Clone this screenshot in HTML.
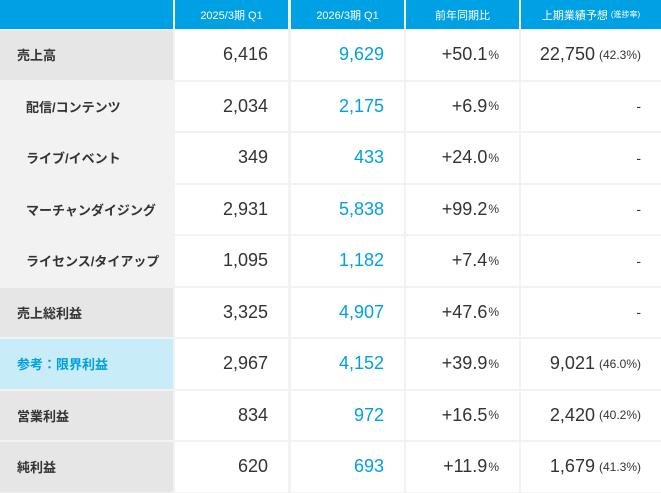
<!DOCTYPE html>
<html><head><meta charset="utf-8"><style>
body{margin:0;width:661px;height:493px;background:#fff;overflow:hidden;font-family:"Liberation Sans","Noto Sans CJK JP",sans-serif;}
.t{position:absolute;left:0;top:0;width:661px;height:493px;background:#f2f2f2;}
.c{position:absolute;box-sizing:border-box;display:flex;align-items:center;color:#333;}
.h{background:#00a0e4;color:#fff;font-size:11px;justify-content:center;}
.l{background:#e6e6e6;font-size:13px;font-weight:bold;padding-left:17px;}
.s{background:#f2f2f2;padding-left:26px;}
.r{background:#c8ecf8;color:#00a0e4;}
.n{background:#fff;justify-content:flex-end;padding-right:20px;font-size:18px;}
.b{color:#00a0e4;}
.p{font-size:12px;margin-left:1px;}
.q{font-size:12px;margin-left:4px;}
.d{font-size:14px;}
</style></head><body>
<div class="t" id="t"></div>
<script>
const rows=[
["売上高","6,416","9,629","+50.1","22,750","(42.3%)","l"],
["配信/コンテンツ","2,034","2,175","+6.9","-","","s"],
["ライブ/イベント","349","433","+24.0","-","","s"],
["マーチャンダイジング","2,931","5,838","+99.2","-","","s"],
["ライセンス/タイアップ","1,095","1,182","+7.4","-","","s"],
["売上総利益","3,325","4,907","+47.6","-","","l"],
["参考：限界利益","2,967","4,152","+39.9","9,021","(46.0%)","r"],
["営業利益","834","972","+16.5","2,420","(40.2%)","l"],
["純利益","620","693","+11.9","1,679","(41.3%)","l"]];
const cols=[[0,173],[175,288],[291,404],[406,519],[521,661]];
const t=document.getElementById('t');
function cell(x,y,w,h,cls,html,name){const e=document.createElement('div');e.className='c '+cls;
e.style.left=x+'px';e.style.top=y+'px';e.style.width=w+'px';e.style.height=h+'px';e.innerHTML=html;


t.appendChild(e);}
const heads=["","2025/3期 Q1","2026/3期 Q1","前年同期比",'上期業績予想<span style="font-size:8px;margin-left:3px">(進捗率)</span>'];
cols.forEach((c,i)=>cell(c[0],0,c[1]-c[0],29,'h',heads[i],'header-cell'));
rows.forEach((r,i)=>{const y=30+i*51.5,h=49.5;
cell(0,y,173,h,r[6]==='l'?'l':(r[6]==='r'?'l r':'l s'),r[0],'row-label');
cell(175,y,113,h,'n',r[1],'value-2025');
cell(291,y,113,h,'n b',r[2],'value-2026');
cell(406,y,113,h,'n',r[3]+'<span class="p">%</span>','yoy-change');
cell(521,y,140,h,'n',r[4]==='-'?'<span class="d">-</span>':r[4]+'<span class="q">'+r[5]+'</span>','forecast');
});
</script>
</body></html>
